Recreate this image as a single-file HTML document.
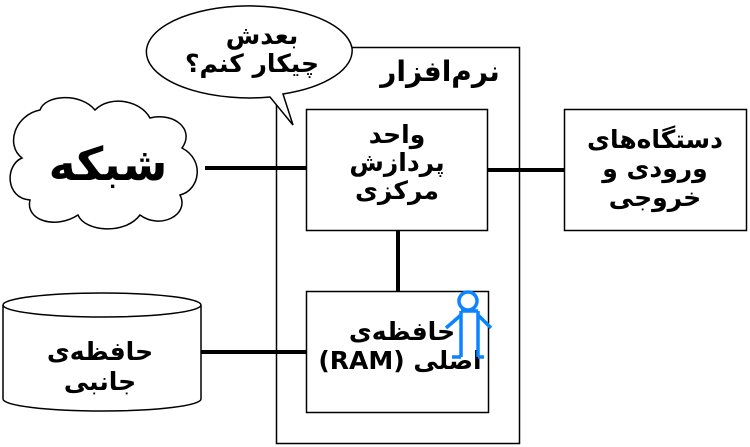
<!DOCTYPE html>
<html><head><meta charset="utf-8"><style>
html,body{margin:0;padding:0;background:#fff;width:750px;height:447px;overflow:hidden}
svg text{font-family:"DejaVu Sans","Liberation Sans","Noto Sans CJK SC",sans-serif;font-weight:bold;fill:#000;text-anchor:middle}
</style></head><body>
<svg width="750" height="447" viewBox="0 0 750 447" xmlns="http://www.w3.org/2000/svg">
<rect x="276.5" y="47.5" width="243" height="396" fill="none" stroke="#000" stroke-width="1.5"/>
<text x="440" y="81" font-size="28" direction="rtl">نرم‌افزار</text>
<!-- bubble -->
<path d="M352,48 A103,46 0 1 0 270,97 L293,125 L283,94 A103,46 0 0 0 352,48 Z" fill="#fff" stroke="#000" stroke-width="1.5"/>
<text x="262" y="44" font-size="25" direction="rtl">بعدش</text>
<text x="252" y="72" font-size="25" direction="rtl">چیکار کنم؟</text>
<!-- cloud -->
<path d="M40,110 C45,95 80,92 95,110 C110,95 140,100 150,118 C175,112 195,130 182,148 C205,160 200,190 180,195 C190,215 160,230 140,215 C125,235 85,232 78,215 C55,230 25,220 30,200 C5,198 5,165 22,158 C5,145 15,115 40,110 Z" fill="#fff" stroke="#000" stroke-width="1.5"/>
<text x="108" y="180" font-size="46" direction="rtl">شبکه</text>
<line x1="205" y1="168" x2="307" y2="168" stroke="#000" stroke-width="4"/>
<!-- CPU -->
<rect x="306.5" y="109.5" width="181" height="121" fill="#fff" stroke="#000" stroke-width="1.5"/>
<text x="397" y="143" font-size="25" direction="rtl">واحد</text>
<text x="397" y="171" font-size="25" direction="rtl">پردازش</text>
<text x="397" y="199" font-size="25" direction="rtl">مرکزی</text>
<line x1="487" y1="170" x2="565" y2="170" stroke="#000" stroke-width="4"/>
<!-- IO -->
<rect x="564.5" y="109.5" width="182" height="121" fill="#fff" stroke="#000" stroke-width="1.5"/>
<text x="655" y="148" font-size="25" direction="rtl">دستگاه‌های</text>
<text x="655" y="177" font-size="25" direction="rtl">ورودی و</text>
<text x="655" y="206" font-size="25" direction="rtl">خروجی</text>
<line x1="398" y1="230" x2="398" y2="292" stroke="#000" stroke-width="4"/>
<!-- RAM -->
<rect x="306.5" y="291.5" width="182" height="121" fill="#fff" stroke="#000" stroke-width="1.5"/>
<text x="402" y="340" font-size="25" direction="rtl">حافظه‌ی</text>
<text x="400" y="369" font-size="25">(RAM) <tspan direction="rtl">اصلی</tspan></text>
<!-- person -->
<g stroke="#0a84ff" stroke-width="3.5" fill="none">
<circle cx="468" cy="301" r="9"/>
<line x1="461" y1="311" x2="461" y2="357"/><line x1="478" y1="311" x2="478" y2="357"/>
<line x1="461" y1="311" x2="478" y2="311"/>
<line x1="461" y1="315" x2="446" y2="328"/><line x1="478" y1="315" x2="491" y2="328"/>
<line x1="452" y1="357" x2="461" y2="357"/><line x1="478" y1="357" x2="484" y2="357"/>
</g>
<line x1="201" y1="352" x2="307" y2="352" stroke="#000" stroke-width="4"/>
<!-- cylinder -->
<path d="M3,305 L3,399 A99,12 0 0 0 201,399 L201,305" fill="#fff" stroke="#000" stroke-width="1.5"/>
<ellipse cx="102" cy="305" rx="99" ry="12" fill="#fff" stroke="#000" stroke-width="1.5"/>
<text x="100" y="360" font-size="25" direction="rtl">حافظه‌ی</text>
<text x="100" y="390" font-size="25" direction="rtl">جانبی</text>
</svg>
</body></html>
